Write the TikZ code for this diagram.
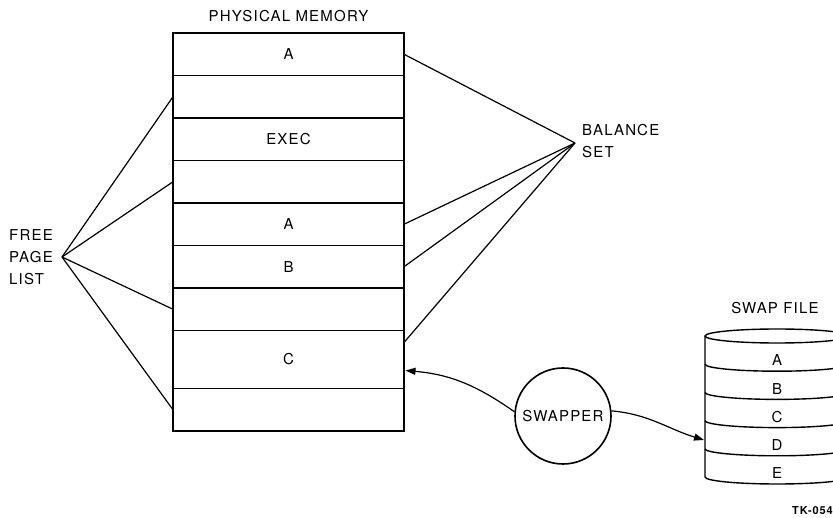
\documentclass[tikz,border=0pt]{standalone}
\usepackage{fontspec}
\setmainfont{TeX Gyre Heros}[LetterSpace=8]
\usetikzlibrary{positioning,arrows.meta,calc}

\begin{document}
\begin{tikzpicture}[x=1pt, y=1pt,
  txt/.style={font=\fontsize{15}{22}\selectfont, inner sep=0pt},
  row/.style={draw, line width=1.3pt, minimum width=231pt, minimum height=42.5pt,
              outer sep=0pt, txt},
  link/.style={line width=1.2pt},
  arr/.style={-{Triangle[length=10pt,width=7pt]}, line width=1.2pt},
  band/.style={line width=1.4pt}
]
\useasboundingbox (0,0) rectangle (833,517);
\clip (0,0) rectangle (833,517);

%% physical memory
\node[row] (r1) at (288.5,462.75) {A};
\node[row, below=0pt of r1] (r2) {};
\node[row, below=0pt of r2] (r3) {EXEC};
\node[row, below=0pt of r3] (r4) {};
\node[row, below=0pt of r4] (r5) {A};
\node[row, below=0pt of r5] (r6) {B};
\node[row, below=0pt of r6] (r7) {};
\node[row, below=0pt of r7, minimum height=58pt] (r8) {C};
\node[row, below=0pt of r8] (r9) {};
\draw[line width=2.6pt] (r1.north west) rectangle (r9.south east);
\node[txt, above=11pt of r1] (pm) {PHYSICAL MEMORY};

%% free page list
\coordinate (fp) at (62,260);
\node[txt, align=left, anchor=east] (fpl) at ([xshift=-9pt]fp) {FREE\\PAGE\\LIST};
\foreach \r in {r2,r4,r7,r9}
  \draw[link] (fp) -- (\r.west);

%% balance set
\coordinate (bs) at (575,374);
\node[txt, align=left, anchor=west] (bsl) at ([xshift=7pt,yshift=2pt]bs) {BALANCE\\SET};
\coordinate (c8) at ($(r8.north east)+(0,-12)$);
\foreach \r in {r1.east,r5.east,r6.east,c8}
  \draw[link] (bs) -- (\r);

%% swapper
\node[draw, circle, line width=1.6pt, minimum size=96pt, txt] (sw) at (563,101) {SWAPPER};
\coordinate (min) at ($(r8.south east)+(1.5,18)$);
\coordinate (swf) at (704,77);
\draw[arr] (sw.175) to[out=145,in=-5] (min);
\draw[arr] (sw.6) to[out=-5,in=163] (swf);

%% swap file
\node[txt] (sfl) at (775,209) {SWAP FILE};
\draw[band] (777,181) ellipse [x radius=72, y radius=7];
\draw[band] (705,181) -- (705,40) arc[start angle=180, end angle=360, x radius=72, y radius=7] -- (849,181);
\foreach \y in {152.8,124.6,96.4,68.2}
  \draw[band] (705,\y) arc[start angle=180, end angle=360, x radius=72, y radius=7];
\foreach \t [count=\i] in {A,B,C,D,E}
  \node[txt] (sf\t) at (777,181-28.2*\i+3.7) {\t};

\node[font=\bfseries\fontsize{11}{12}\selectfont, anchor=east, inner sep=0pt] (tk) at (833,6) {TK-054};
\end{tikzpicture}
\end{document}
